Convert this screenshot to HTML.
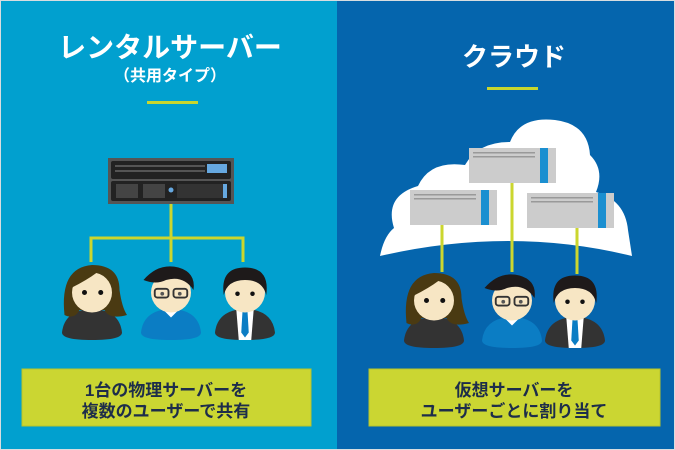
<!DOCTYPE html>
<html><head><meta charset="utf-8"><style>
body{margin:0;width:675px;height:450px;overflow:hidden;font-family:"Liberation Sans","Noto Sans CJK JP",sans-serif;}
svg{display:block}
</style></head><body>
<svg width="675" height="450" xmlns="http://www.w3.org/2000/svg">
<rect x="0" y="0" width="675" height="450" fill="#d8dde0"/>
<rect x="1" y="1" width="336" height="448" fill="#01a0cf"/>
<rect x="337" y="1" width="337" height="448" fill="#0565ad"/>
<defs>
<g id="woman">
<path d="M-24,34 Q-22,16 0,15 Q22,16 24,34 Q24,40 0,40 Q-24,40 -24,34Z" fill="#333"/>
<path d="M-22,20 Q-26,-18 0,-20 Q22,-20 22,0 Q24,14 28,20 Q14,24 10,16 L-10,16 Q-14,24 -22,20Z" fill="#4a3a12"/>
<ellipse cx="0" cy="2" rx="16" ry="16" fill="#f7e6c4"/>
<path d="M-16,-2 Q-10,-18 4,-14 Q-4,-8 -16,-2Z" fill="#4a3a12"/>
<circle cx="-6" cy="2" r="2" fill="#111"/><circle cx="7" cy="2" r="2" fill="#111"/>
</g>
<g id="glasses">
<path d="M-24,34 Q-22,16 0,15 Q22,16 24,34 Q24,40 0,40 Q-24,40 -24,34Z" fill="#0b7dc4"/>
<path d="M-7,15 L0,22 L7,15 Z" fill="#fff"/>
<ellipse cx="0" cy="2" rx="16" ry="16" fill="#f7e6c4"/>
<path d="M-22,-8 Q-10,-22 6,-18 Q20,-14 18,0 Q10,-12 -4,-8 Q-12,-4 -22,-8Z" fill="#1e1a1a"/>
<rect x="-13" y="-1" width="11" height="7" rx="2" fill="none" stroke="#333" stroke-width="1.5"/>
<rect x="2" y="-1" width="11" height="7" rx="2" fill="none" stroke="#333" stroke-width="1.5"/>
<circle cx="-7" cy="3" r="1.5" fill="#555"/><circle cx="7" cy="3" r="1.5" fill="#555"/>
</g>
<g id="suit">
<path d="M-24,34 Q-22,16 0,15 Q22,16 24,34 Q24,40 0,40 Q-24,40 -24,34Z" fill="#333"/>
<path d="M-7,15 L7,15 L5,40 L-5,40Z" fill="#fff"/>
<path d="M-2,17 L2,17 L3,34 L0,38 L-3,34Z" fill="#0b7dc4"/>
<ellipse cx="0" cy="2" rx="16" ry="16" fill="#f7e6c4"/>
<path d="M-17,4 Q-20,-18 0,-18 Q20,-18 17,4 Q14,-8 0,-8 Q-14,-8 -17,4Z" fill="#1e1a1a"/>
<circle cx="-6" cy="3" r="1.8" fill="#111"/><circle cx="6" cy="3" r="1.8" fill="#111"/>
</g>
<g id="vs">
<rect x="0" y="0" width="87" height="35" fill="#cccccc"/>
<rect x="71" y="0" width="8" height="35" fill="#1b8fd0"/>
<rect x="4" y="4" width="62" height="1.5" fill="#999"/>
<rect x="4" y="8" width="62" height="1.5" fill="#999"/>
</g>
</defs>
<text x="170" y="57" text-anchor="middle" font-size="28" font-weight="bold" fill="#fff">レンタルサーバー</text>
<text x="170" y="81" text-anchor="middle" font-size="16" font-weight="bold" fill="#fff">（共用タイプ）</text>
<rect x="147" y="101" width="51" height="3" fill="#c8d62e"/>
<rect x="108" y="158" width="126" height="46" fill="#555"/>
<rect x="111" y="161" width="120" height="18" rx="2" fill="#222"/>
<rect x="115" y="165" width="90" height="2" fill="#555"/>
<rect x="115" y="170" width="90" height="2" fill="#555"/>
<rect x="207" y="164" width="20" height="9" fill="#66a8e0"/>
<rect x="111" y="181" width="120" height="20" rx="2" fill="#222"/>
<rect x="116" y="184" width="22" height="14" fill="#444"/>
<rect x="143" y="184" width="22" height="14" fill="#444"/>
<circle cx="171" cy="190" r="2.5" fill="#66a8e0"/>
<rect x="177" y="184" width="50" height="14" fill="#333"/>
<rect x="223" y="184" width="4" height="14" fill="#66a8e0"/>
<g stroke="#cbd62e" stroke-width="3" fill="none">
<path d="M171,204 V238 M91,262 V238 H243 V262"/>
<path d="M171,238 V262"/>
</g>
<use href="#woman" transform="translate(92,290) scale(1.25)"/>
<use href="#glasses" transform="translate(171,290) scale(1.25)"/>
<use href="#suit" transform="translate(245,290) scale(1.25)"/>
<rect x="22" y="369" width="289" height="57" fill="#cbd632" stroke="#b8c42a"/>
<text x="166" y="396" text-anchor="middle" font-size="17" font-weight="bold" fill="#1d2d4a">1台の物理サーバーを</text>
<text x="166" y="417" text-anchor="middle" font-size="17" font-weight="bold" fill="#1d2d4a">複数のユーザーで共有</text>
<text x="514" y="66" text-anchor="middle" font-size="26" font-weight="bold" fill="#fff">クラウド</text>
<rect x="487" y="87" width="51" height="3" fill="#c8d62e"/>
<path d="M380,256 Q384,236 394,228 Q384,196 418,186 Q430,160 465,165 Q478,142 510,142 Q520,116 555,120 Q588,124 590,155 Q605,170 596,192 Q625,200 628,230 L632,256 Q510,226 380,256Z" fill="#fff"/>
<use href="#vs" x="469" y="148"/>
<use href="#vs" x="410" y="190"/>
<use href="#vs" x="527" y="193"/>
<g stroke="#cbd62e" stroke-width="3">
<path d="M442,225 V272 M512,183 V272 M577,228 V274"/>
</g>
<use href="#woman" transform="translate(434,298) scale(1.25)"/>
<use href="#glasses" transform="translate(512,298) scale(1.25)"/>
<use href="#suit" transform="translate(575,298) scale(1.25)"/>
<rect x="369" y="369" width="291" height="57" fill="#cbd632" stroke="#b8c42a"/>
<text x="514" y="396" text-anchor="middle" font-size="17" font-weight="bold" fill="#1d2d4a">仮想サーバーを</text>
<text x="514" y="417" text-anchor="middle" font-size="17" font-weight="bold" fill="#1d2d4a">ユーザーごとに割り当て</text>
</svg>
</body></html>
